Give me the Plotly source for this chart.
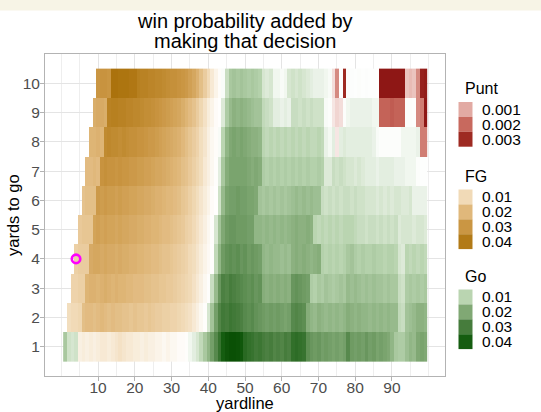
import plotly.graph_objects as go

# ---------------- data ----------------
yardlines = list(range(1, 100))
yards_to_go = list(range(1, 11))

# each row: consecutive segments (decision, values), values start at yardline == yards to go
row_ytg1 = [
    ("Go", [.013, .007, .006, .007]),
    ("FG", [.004, .005, .004, .005, .004, .005, .006, .006, .005, .006, .007,
            .008, .007, .006, .006, .005,
            .005, .004, .005, .004, .004, .003, .003, .002, .003, .002,
            .002, .001, .001, .0005]),
    ("Go", [.002, .004, .006, .009, .013,
            .017, .022, .027, .033, .040, .044, .046, .046, .045, .043,
            .036, .034, .033, .031, .032, .030, .029, .030, .028, .029,
            .028, .030, .029, .034, .035, .034, .033, .026, .024, .023,
            .024, .022, .023, .022, .021, .022, .021, .022, .027, .023,
            .022, .023, .022, .024, .022, .023, .021, .022, .021, .020,
            .017, .013, .012, .012, .015, .017, .016, .020, .021, .020]),
]
row_ytg2 = [
    ("FG", [.009, .010, .010, .011,
            .018, .019, .019, .018, .019,
            .020, .019, .018, .019, .018, .018, .017, .017, .016, .017,
            .016, .016, .015, .016, .015, .014, .014, .013, .013, .012,
            .012, .011, .010, .009, .008, .006, .004, .002, .0005]),
    ("Go", [.006, .014, .022, .028, .031, .030, .032, .031, .030, .029,
            .027, .026, .027, .025, .024, .023, .022, .023, .022, .023,
            .022, .021, .022, .027, .028, .027, .026, .019, .017, .016,
            .018, .017, .016, .017, .016, .017, .016, .017, .019, .018,
            .017, .018, .017, .017, .016, .017, .016, .017, .016, .017,
            .016, .016, .009, .008, .014, .015, .016, .018, .018, .017]),
]
row_ytg3 = [
    ("FG", [.012, .012, .013, .013,
            .021, .022, .022, .021,
            .022, .023, .022, .021, .022, .021, .021, .020, .020, .019,
            .019, .019, .018, .018, .017, .017, .016, .016, .015, .015,
            .014, .013, .012, .011, .010, .008, .006, .004, .002, .0005]),
    ("Go", [.008, .016, .024, .029, .028, .030, .029, .028, .027,
            .026, .025, .026, .024, .025, .019, .018, .019, .018, .019,
            .018, .019, .018, .024, .025, .024, .023, .022, .012, .011,
            .013, .012, .014, .013, .012, .013, .014, .013, .016, .015,
            .016, .015, .014, .015, .014, .015, .014, .014, .013, .014,
            .013, .013, .008, .007, .012, .013, .012, .013, .012, .013]),
]
row_ytg4 = [
    ("FG", [.013, .014, .014, .014,
            .024, .025, .025,
            .024, .025, .024, .024, .023, .024, .023, .023, .022, .022,
            .021, .021, .020, .020, .019, .019, .018, .017, .017, .016,
            .015, .014, .013, .012, .010, .009, .007, .005, .003, .0015, .0003]),
    ("Go", [.009, .017, .023, .025, .026, .025, .026, .024,
            .025, .023, .024, .023, .022, .017, .016, .017, .016, .016,
            .015, .016, .015, .018, .019, .018, .019, .018, .017, .018,
            .019, .011, .010, .011, .010, .011, .010, .011, .013, .014,
            .012, .011, .012, .011, .011, .012, .011, .011, .010, .011,
            .011, .010, .006, .005, .010, .009, .010, .009, .010, .009]),
]
row_ytg5 = [
    ("FG", [.015, .016, .016, .016,
            .026, .027,
            .026, .027, .026, .026, .025, .026, .025, .025, .024, .024,
            .023, .023, .022, .022, .021, .021, .020, .019, .019, .018,
            .017, .016, .015, .013, .012, .010, .008, .006, .004, .002, .0005]),
    ("Go", [.006, .014, .020, .023, .024, .024, .023, .023,
            .023, .022, .022, .017, .017, .016, .017, .016, .017, .016,
            .017, .016, .017, .018, .019, .018, .018, .019, .018, .010,
            .009, .010, .009, .010, .009, .010, .009, .010, .010, .010,
            .009, .008, .008, .007, .008, .008, .007, .008, .007, .008,
            .007, .008, .005, .006, .006, .006, .005, .006, .006, .005]),
]
row_ytg6 = [
    ("FG", [.017, .018, .018, .018,
            .029,
            .028, .029, .028, .028, .027, .028, .027, .027, .026, .026,
            .025, .025, .024, .024, .023, .022, .022, .021, .020, .020,
            .019, .018, .016, .015, .013, .011, .009, .007, .005, .003, .001, .0003]),
    ("Go", [.007, .016, .021, .022, .022, .023, .022,
            .022, .021, .021, .020, .014, .013, .014, .013, .014, .013,
            .014, .013, .014, .015, .016, .015, .016, .015, .016, .015,
            .015, .008, .007, .008, .007, .008, .007, .008, .008, .007,
            .008, .007, .007, .006, .006, .006, .005, .006, .005, .006,
            .005, .006, .006, .005, .005, .006, .003, .003, .003, .003]),
]
row_ytg7 = [
    ("FG", [.019, .019, .020, .019,
            .031, .032, .031, .031, .030, .031, .030, .030, .029, .029,
            .028, .028, .027, .027, .026, .025, .025, .024, .023, .022,
            .021, .020, .018, .017, .015, .013, .011, .009, .006, .004, .002, .0005]),
    ("Go", [.004, .013, .019, .021, .021, .021, .021,
            .021, .020, .019, .020, .019, .012, .011, .012, .011, .012,
            .011, .012, .011, .012, .011, .012, .011, .012, .011, .011,
            .012, .011, .005, .005, .008, .007, .008, .007, .006, .006,
            .005, .006, .005, .004, .004, .004, .003, .004, .004, .004,
            .004, .003, .003, .003, .002, .002, .002, .0005, .0003, .0003]),
]
row_ytg8 = [
    ("FG", [.021, .021, .022, .021,
            .034, .035, .034, .034, .033, .034, .033, .032, .032,
            .031, .031, .030, .029, .029, .028, .027, .026, .025, .024,
            .023, .022, .020, .018, .016, .014, .012, .009, .007, .004, .002, .0008]),
    ("Go", [.001, .010, .017, .020, .021, .020, .021,
            .020, .019, .018, .018, .017, .010, .009, .010, .009, .010,
            .009, .010, .009, .010, .009, .010, .009, .010, .009, .009,
            .010, .009, .003, .0015, .004]),
    ("Punt", [.0003]),
    ("Go", [.004, .005, .004, .004,
            .004, .004, .004, .004, .004, .003, .001, .0005, .0005, .0005,
            .0005, .0005, .0005, .002, .002, .002, .002, .003]),
    ("Punt", [.0017, .0017]),
]
row_ytg9 = [
    ("FG", [.023, .024, .024, .023,
            .037, .038, .038, .037, .037, .036, .036, .035,
            .035, .034, .033, .033, .032, .031, .030, .029, .028, .027,
            .026, .025, .023, .021, .019, .017, .014, .011, .008, .005, .003, .001, .0003]),
    ("Go", [.005, .012, .016, .018, .017, .018,
            .017, .016, .015, .014, .014, .009, .008, .007, .004, .004,
            .003, .004, .003, .008, .008, .007, .008, .007, .008, .007,
            .007, .007, .001, .0005]),
    ("Punt", [.0003, .0005, .0004]),
    ("Go", [.0005, .002, .003, .003, .003, .003, .003, .003, .002, .002]),
    ("Punt", [.0021, .0021, .0021, .0022, .0021, .0021, .0021]),
    ("Go", [.0005, .0005, .0003]),
    ("Punt", [.0015, .0017, .0034]),
]
row_ytg10 = [
    ("FG", [.030, .031, .031, .030,
            .043, .043, .042, .042, .042, .041, .041,
            .038, .037, .037, .036, .036, .035, .035, .034, .033, .032,
            .032, .031, .030, .029, .027, .025, .022, .018, .014, .010, .006, .003, .0008]),
    ("Go", [.0008, .008, .013, .014, .013, .014,
            .013, .012, .013, .012, .011, .006, .005, .006, .002, .002,
            .001, .002, .006, .007, .006, .007, .006, .005, .004, .003,
            .003, .003, .002, .001]),
    ("Punt", [.0004, .0015]),
    ("Go", [.0003]),
    ("Punt", [.0030]),
    ("Go", [.0005, .0004, .0003, .0005, .0003, .0004, .0003, .0003, .0002]),
    ("Punt", [.0034, .0034, .0034, .0034, .0034, .0034, .0034,
              .0007, .0008, .0007, .0015, .0032, .0033]),
]
rows = [row_ytg1, row_ytg2, row_ytg3, row_ytg4, row_ytg5,
        row_ytg6, row_ytg7, row_ytg8, row_ytg9, row_ytg10]

decisions = ["Punt", "FG", "Go"]
legend_breaks = {"Punt": [0.001, 0.002, 0.003],
                 "FG": [0.01, 0.02, 0.03, 0.04],
                 "Go": [0.01, 0.02, 0.03, 0.04]}
legend_labels = {"Punt": ["0.001", "0.002", "0.003"],
                 "FG": ["0.01", "0.02", "0.03", "0.04"],
                 "Go": ["0.01", "0.02", "0.03", "0.04"]}

marker_yardline = [4]
marker_ytg = [4]

# ---------------- styles ----------------
zmax = {"Punt": 0.0035, "FG": 0.045, "Go": 0.046}
stop_colors = {
    "Punt": ["#ffffff", "#e2aaa3", "#c8695e", "#9e2a22", "#8a1212"],
    "FG":   ["#ffffff", "#f1dab7", "#e0b87b", "#ca9643", "#b27a17", "#a66d06"],
    "Go":   ["#ffffff", "#bad5b1", "#80a874", "#467c3c", "#155d10", "#0a5005"],
}


def colorscale(d):
    vals = [0] + legend_breaks[d] + [zmax[d]]
    return [[v / zmax[d], c] for v, c in zip(vals, stop_colors[d])]


# build z matrices
z = {d: [[None] * len(yardlines) for _ in yards_to_go] for d in decisions}
for ri, segs in enumerate(rows):
    ytg = yards_to_go[ri]
    pos = ytg - 1
    for dec, vals in segs:
        for v in vals:
            if pos < len(yardlines):
                z[dec][ri][pos] = v
            pos += 1

FONT = "Liberation Sans, Arial, sans-serif"
fig = go.Figure()
for d in decisions:
    fig.add_trace(go.Heatmap(
        x=yardlines, y=yards_to_go, z=z[d], zmin=0, zmax=zmax[d],
        colorscale=colorscale(d), showscale=False, hoverinfo="skip",
        zsmooth=False))

fig.add_trace(go.Scatter(
    x=marker_yardline, y=marker_ytg, mode="markers",
    marker=dict(symbol="circle-open", size=8.5, color="#FF00FF",
                line=dict(width=2.6, color="#FF00FF")),
    showlegend=False, hoverinfo="skip"))

# geometry helpers (pixel -> paper)
L, R, T, B = 45, 96, 54, 36
W, H = 541, 412
PW, PH = W - L - R, H - T - B


def px(xp):
    return (xp - L) / PW


def py(yp):
    return (H - B - yp) / PH


shapes = []
annotations = []

# top cream strip
shapes.append(dict(type="rect", xref="paper", yref="paper",
                   x0=px(-5), x1=px(W + 5), y0=py(10.5), y1=py(-5),
                   fillcolor="#F7F4E6", line=dict(width=0), layer="above"))

# title
annotations.append(dict(text="win probability added by", x=0.5, y=py(21),
                        xref="paper", yref="paper", showarrow=False,
                        xanchor="center", yanchor="middle",
                        font=dict(family=FONT, size=20, color="#000000")))
annotations.append(dict(text="making that decision", x=0.5, y=py(41),
                        xref="paper", yref="paper", showarrow=False,
                        xanchor="center", yanchor="middle",
                        font=dict(family=FONT, size=20, color="#000000")))
# axis titles
annotations.append(dict(text="yardline", x=0.5, y=py(403),
                        xref="paper", yref="paper", showarrow=False,
                        xanchor="center", yanchor="middle",
                        font=dict(family=FONT, size=16.5, color="#000000")))
annotations.append(dict(text="yards to go", x=px(13), y=py(215),
                        xref="paper", yref="paper", showarrow=False,
                        textangle=-90, xanchor="center", yanchor="middle",
                        font=dict(family=FONT, size=16.5, color="#000000")))

# legends
key_tops = {"Punt": 102, "FG": 189.5, "Go": 289.5}
KEY_H = 14.9
KX0, KX1 = 458.5, 472.5
for d in decisions:
    top = key_tops[d]
    annotations.append(dict(text=d, x=px(462.5), y=py(top - 13.5),
                            xref="paper", yref="paper", showarrow=False,
                            xanchor="left", yanchor="middle",
                            font=dict(family=FONT, size=16, color="#000000")))
    for i, (b, lab) in enumerate(zip(legend_breaks[d], legend_labels[d])):
        y0 = top + i * KEY_H
        shapes.append(dict(type="rect", xref="paper", yref="paper",
                           x0=px(KX0), x1=px(KX1), y0=py(y0 + KEY_H), y1=py(y0),
                           fillcolor=stop_colors[d][i + 1], line=dict(width=0)))
        annotations.append(dict(text=lab, x=px(479.5), y=py(y0 + KEY_H / 2),
                                xref="paper", yref="paper", showarrow=False,
                                xanchor="left", yanchor="middle",
                                font=dict(family=FONT, size=15.5, color="#000000")))

axis_common = dict(showline=True, mirror=True, linecolor="#B3B3B3", linewidth=1,
                   ticks="outside", ticklen=4, tickcolor="#B3B3B3", tickwidth=1,
                   tickfont=dict(family=FONT, size=15.5, color="#4D4D4D"),
                   showgrid=True, gridcolor="#E4E4E4", gridwidth=1,
                   zeroline=False)

fig.update_layout(
    width=W, height=H, margin=dict(l=L, r=R, t=T, b=B, autoexpand=False),
    paper_bgcolor="white", plot_bgcolor="white", showlegend=False,
    xaxis=dict(range=[-4.45, 104.45], tickmode="array",
               tickvals=[10, 20, 30, 40, 50, 60, 70, 80, 90],
               ticklabelstandoff=-7,
               minor=dict(tickmode="linear", tick0=0, dtick=5, showgrid=True,
                          gridcolor="#EEEEEE", gridwidth=0.6, ticks=""),
               **axis_common),
    yaxis=dict(range=[0, 11], tickmode="array", tickvals=yards_to_go,
               ticklabelstandoff=-3,
               **axis_common),
    shapes=shapes, annotations=annotations,
)

fig.write_html("out.html", config={"displayModeBar": False},
               post_script="document.body.style.margin='0';document.body.style.padding='0';")
